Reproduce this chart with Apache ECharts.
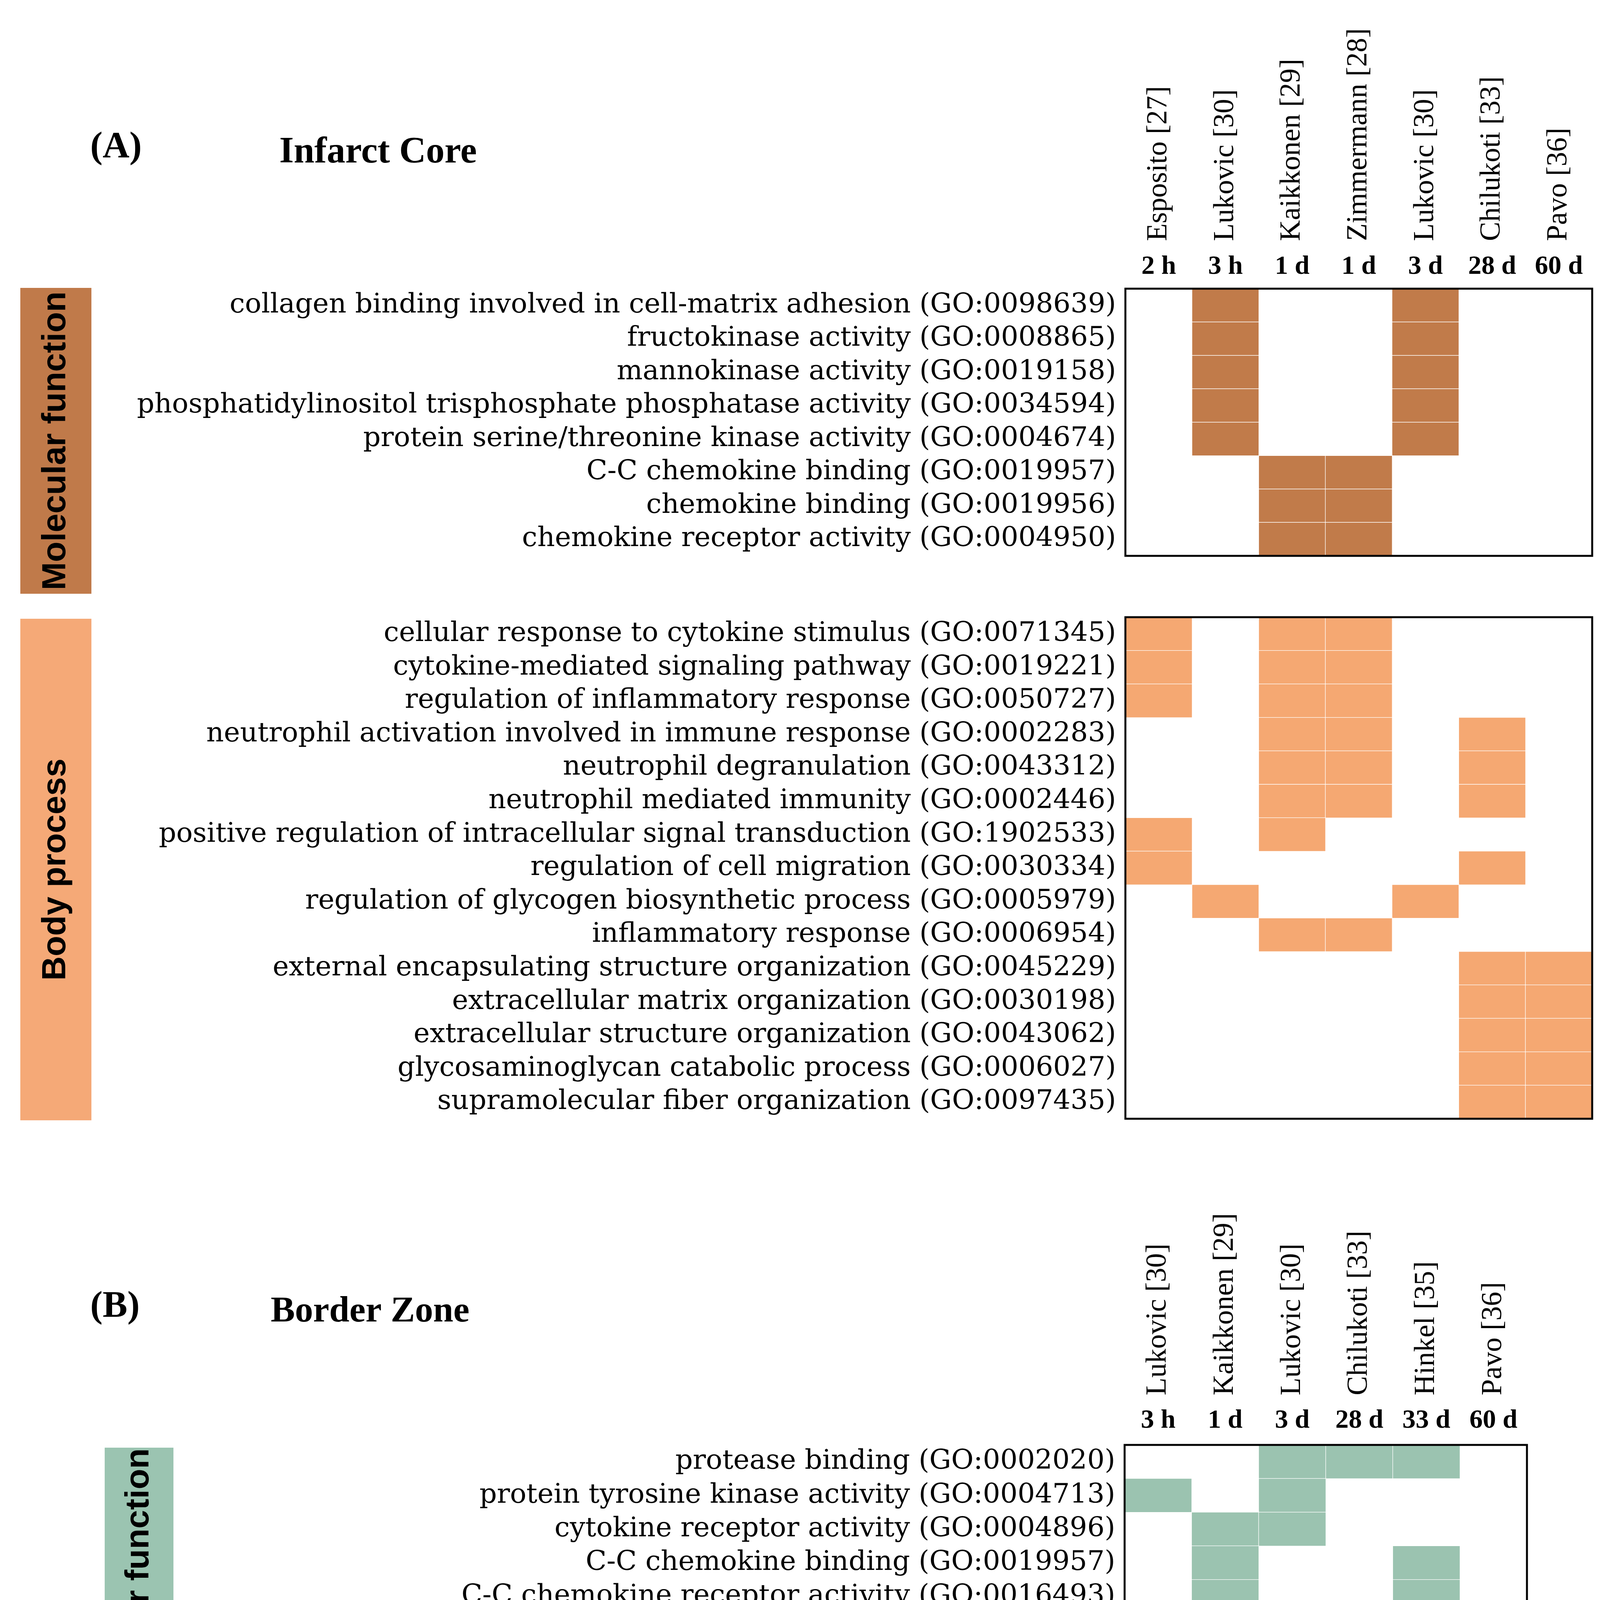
<!DOCTYPE html>
<html><head><meta charset="utf-8">
<script src="https://cdn.jsdelivr.net/npm/echarts@6/dist/echarts.min.js"></script>
<style>html,body{margin:0;padding:0;background:#fff}#c{width:4119px;height:5886px}</style>
</head><body><div id="c"></div>
<script>
// ---------- data ----------
const studiesA = ["Esposito [27]","Lukovic [30]","Kaikkonen [29]","Zimmermann [28]","Lukovic [30]","Chilukoti [33]","Pavo [36]"];
const timesA = ["2 h","3 h","1 d","1 d","3 d","28 d","60 d"];
const studiesB = ["Lukovic [30]","Kaikkonen [29]","Lukovic [30]","Chilukoti [33]","Hinkel [35]","Pavo [36]"];
const timesB = ["3 h","1 d","3 d","28 d","33 d","60 d"];

const mfTermsA = [
 "collagen binding involved in cell-matrix adhesion (GO:0098639)",
 "fructokinase activity (GO:0008865)",
 "mannokinase activity (GO:0019158)",
 "phosphatidylinositol trisphosphate phosphatase activity (GO:0034594)",
 "protein serine/threonine kinase activity (GO:0004674)",
 "C-C chemokine binding (GO:0019957)",
 "chemokine binding (GO:0019956)",
 "chemokine receptor activity (GO:0004950)"
];
const mfHitsA = [[1,4],[1,4],[1,4],[1,4],[1,4],[2,3],[2,3],[2,3]];

const bpTermsA = [
 "cellular response to cytokine stimulus (GO:0071345)",
 "cytokine-mediated signaling pathway (GO:0019221)",
 "regulation of inflammatory response (GO:0050727)",
 "neutrophil activation involved in immune response (GO:0002283)",
 "neutrophil degranulation (GO:0043312)",
 "neutrophil mediated immunity (GO:0002446)",
 "positive regulation of intracellular signal transduction (GO:1902533)",
 "regulation of cell migration (GO:0030334)",
 "regulation of glycogen biosynthetic process (GO:0005979)",
 "inflammatory response (GO:0006954)",
 "external encapsulating structure organization (GO:0045229)",
 "extracellular matrix organization (GO:0030198)",
 "extracellular structure organization (GO:0043062)",
 "glycosaminoglycan catabolic process (GO:0006027)",
 "supramolecular fiber organization (GO:0097435)"
];
const bpHitsA = [[0,2,3],[0,2,3],[0,2,3],[2,3,5],[2,3,5],[2,3,5],[0,2],[0,5],[1,4],[2,3],[5,6],[5,6],[5,6],[5,6],[5,6]];

const mfTermsB = [
 "protease binding (GO:0002020)",
 "protein tyrosine kinase activity (GO:0004713)",
 "cytokine receptor activity (GO:0004896)",
 "C-C chemokine binding (GO:0019957)",
 "C-C chemokine receptor activity (GO:0016493)",
 "chemokine binding (GO:0019956)",
 "chemokine receptor activity (GO:0004950)",
 "cell-matrix adhesion mediator activity (GO:0098634)",
 "platelet-derived growth factor binding (GO:0048407)"
];
const mfHitsB = [[2,3,4],[0,2],[1,2],[1,4],[1,4],[1,4],[1,4],[2,4],[2,4]];

const bpTermsB = [
 "external encapsulating structure organization (GO:0045229)",
 "extracellular matrix organization (GO:0030198)",
 "extracellular structure organization (GO:0043062)",
 "cellular response to cytokine stimulus (GO:0071345)",
 "cytokine-mediated signaling pathway (GO:0019221)",
 "cell-matrix adhesion (GO:0007160)",
 "inflammatory response (GO:0006954)",
 "neutrophil activation involved in immune response (GO:0002283)",
 "neutrophil degranulation (GO:0043312)",
 "neutrophil mediated immunity (GO:0002446)",
 "collagen fibril organization (GO:0030199)",
 "glycosaminoglycan biosynthetic process (GO:0006024)",
 "glycosaminoglycan catabolic process (GO:0006027)",
 "supramolecular fiber organization (GO:0097435)"
];
const bpHitsB = [[2,3,4,5],[2,3,4,5],[2,3,4,5],[1,2,4],[1,2,4],[2,4],[1,4],[1,5],[1,5],[1,5],[3,4],[3],[3],[3,4]];

// ---------- build ----------
function cells(hits){ const d=[]; hits.forEach((row,r)=>row.forEach(c=>d.push([c,r,1]))); return d; }

const SERIF = '"Liberation Serif", "Times New Roman", serif';
const LABEL_FONT = '"DejaVu Serif", serif';

function grid(left, top, width, height){
  return {left, top, width, height, show:true, borderColor:'#000', borderWidth:5,
          backgroundColor:'rgba(0,0,0,0)', z:10, containLabel:false, outerBoundsMode:'none'};
}
function yAx(gi, terms){
  return {type:'category', gridIndex:gi, data:terms, inverse:true,
    axisLine:{show:false}, axisTick:{show:false}, splitLine:{show:false},
    axisLabel:{interval:0, margin:24, fontSize:70, fontFamily:LABEL_FONT, color:'#000'}};
}
function timeAx(gi, times, margin){
  return {type:'category', gridIndex:gi, data:times, position:'top',
    axisLine:{show:false}, axisTick:{show:false}, splitLine:{show:false},
    axisLabel:{interval:0, margin, fontSize:68, fontWeight:'bold', fontFamily:SERIF, color:'#000'}};
}
function nameAx(gi, names, margin){
  return {type:'category', gridIndex:gi, data:names, position:'top', offset:100,
    axisLine:{show:false}, axisTick:{show:false}, splitLine:{show:false},
    axisLabel:{interval:0, rotate:-90, margin, fontSize:74, fontFamily:SERIF, color:'#000'}};
}
function hiddenAx(gi, n){
  return {type:'category', gridIndex:gi, data:n, show:false};
}
function hm(xi, yi, data, color){
  return {type:'heatmap', xAxisIndex:xi, yAxisIndex:yi, data, silent:true,
    itemStyle:{color, borderColor:'#fff', borderWidth:1.3}, emphasis:{disabled:true}};
}
function sideBar(x,y,w,h,color,text){
  return [
    {type:'rect', shape:{x,y,width:w,height:h}, style:{fill:color}, silent:true, z:1},
    {type:'text', x:x+w/2, y:y+h/2, rotation:Math.PI/2, silent:true, z:2,
     style:{text, fill:'#000', font:'bold 86px "Liberation Sans", Arial, sans-serif',
            textAlign:'center', textVerticalAlign:'middle', align:'center', verticalAlign:'middle'}}
  ];
}
function heading(x,y,text,size){
  return {type:'text', x, y, silent:true,
    style:{text, fill:'#000', font:'bold '+size+'px '+SERIF,
           textAlign:'left', textVerticalAlign:'middle', align:'left', verticalAlign:'middle'}};
}

const chart = echarts.init(document.getElementById('c'), null, {renderer:'canvas'});
chart.setOption({
  backgroundColor:'#fff',
  animation:false,
  grid:[ grid(2881,739,1195,684), grid(2881,1580,1195,1284), grid(2879,3699,1030,776), grid(2879,4541,1030,1210) ],
  xAxis:[ timeAx(0,timesA,22), nameAx(0,studiesA,22), hiddenAx(1,timesA),
          timeAx(2,timesB,28), nameAx(2,studiesB,27), hiddenAx(3,timesB) ],
  yAxis:[ yAx(0,mfTermsA), yAx(1,bpTermsA), yAx(2,mfTermsB), yAx(3,bpTermsB) ],
  series:[
    hm(0,0,cells(mfHitsA),'#C17B4A'),
    hm(2,1,cells(bpHitsA),'#F5A872'),
    hm(3,2,cells(mfHitsB),'#9BC3B0'),
    hm(5,3,cells(bpHitsB),'#7BF6BC')
  ],
  graphic:{elements:[
    heading(231,378,'(A)',95), heading(715,391,'Infarct Core',95),
    heading(231,3346,'(B)',95), heading(693,3359,'Border Zone',93),
    ...sideBar(52,737,182,783,'#C07A4A','Molecular function'),
    ...sideBar(52,1584,182,1284,'#F5A977','Body process'),
    ...sideBar(268,3706,176,768,'#9BC4B1','Molecular function'),
    ...sideBar(278,4550,177,1296,'#7AF5BC','Body process')
  ]}
});
</script></body></html>
